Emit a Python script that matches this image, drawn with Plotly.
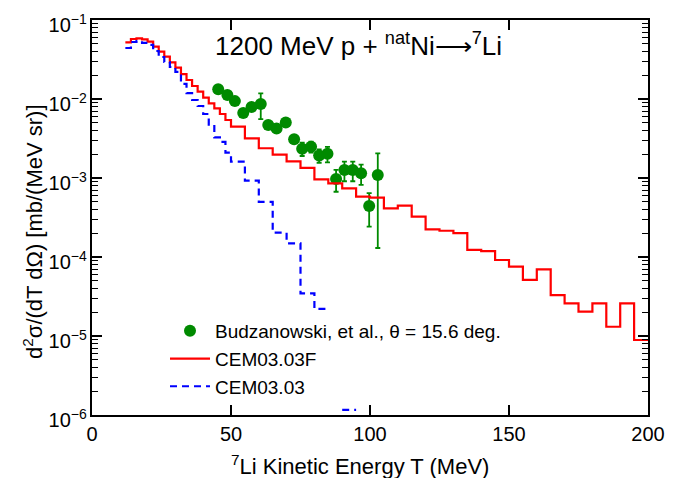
import plotly.graph_objects as go

# ---- data -------------------------------------------------------------
# CEM03.03F histogram: bin edges (MeV) and cross sections per bin [mb/(MeV sr)]
red_edges = [12, 14, 16, 18, 20, 22, 24, 26, 28, 30, 32, 34, 36, 38, 40, 42, 44, 46, 48, 50,
             55, 60, 65, 70, 75, 80, 85, 90, 95, 100, 105, 110, 115, 120, 125, 130, 135, 140,
             145, 150, 155, 160, 165, 170, 175, 180, 185, 190, 195, 200]
red_values = [0.0522, 0.0575, 0.0587, 0.0570, 0.0531, 0.0459, 0.0397, 0.0343, 0.0291, 0.0249,
              0.0206, 0.0174, 0.0146, 0.0124, 0.0104, 0.00882, 0.00762, 0.00646, 0.00542,
              0.00446, 0.00318, 0.00238, 0.00198, 0.00162, 0.00134, 0.000963, 0.000857,
              0.000741, 0.000580, 0.000563, 0.000413, 0.000446, 0.000324, 0.000224, 0.000215,
              0.000200, 0.000123, 0.000119, 9.16e-5, 7.54e-5, 5.12e-5, 6.99e-5, 3.30e-5,
              2.59e-5, 2.03e-5, 2.59e-5, 1.31e-5, 2.59e-5, 8.9e-6]

# CEM03.03 histogram (None = empty bin)
blue_edges = [12, 14, 16, 18, 20, 22, 24, 26, 28, 30, 32, 34, 36, 38, 40, 42, 44, 46, 48, 50,
              55, 60, 65, 70, 75, 80, 85, 90, 95]
blue_values = [0.0442, 0.0527, 0.0542, 0.0512, 0.0483, 0.0405, 0.0340, 0.0294, 0.0254, 0.0220,
               0.0155, 0.0119, 0.00971, 0.00815, 0.00646, 0.00475, 0.00326, 0.00286, 0.00210,
               0.00161, 0.000924, 0.000500, 0.000203, 0.000149, 3.47e-5, 2.20e-5, None, 1.16e-6]

# Budzanowski et al. measurement at 15.6 deg
exp_T = [45.4, 48.7, 51.4, 54.4, 57.4, 60.7, 63.4, 66.4, 69.7, 72.7,
         75.6, 78.8, 81.7, 84.7, 87.8, 90.8, 93.8, 96.8, 99.7, 102.8]
exp_sigma = [1.33e-2, 1.12e-2, 9.4e-3, 6.65e-3, 7.9e-3, 8.65e-3, 4.69e-3, 4.24e-3, 5.05e-3, 3.09e-3,
             2.35e-3, 2.49e-3, 1.93e-3, 2.03e-3, 9.7e-4, 1.26e-3, 1.26e-3, 1.15e-3, 4.43e-4, 1.09e-3]
exp_err = [1.1e-3, 9e-4, 8e-4, 5e-4, 6e-4, 3.1e-3, 3.5e-4, 3.2e-4, 4e-4, 2.5e-4,
           4.5e-4, 4e-4, 3.7e-4, 4.5e-4, 3.0e-4, 3.5e-4, 3.5e-4, 3.3e-4, 2.0e-4, 9.6e-4]

x_ticks = [0, 50, 100, 150, 200]


def step_xy(edges, values):
    """Turn per-bin values into an 'hv' polyline, breaking at empty bins."""
    xs, ys = [], []
    n = len(values)
    for i, v in enumerate(values):
        if v is None:
            continue
        xs.append(edges[i])
        ys.append(v)
        if i == n - 1 or values[i + 1] is None:
            xs.append(edges[i + 1])
            ys.append(v)
            xs.append(None)
            ys.append(None)
    return xs, ys


FONT = "Liberation Sans, Arial, Helvetica, sans-serif"

fig = go.Figure()

fig.add_trace(go.Scatter(
    x=exp_T, y=exp_sigma, mode="markers",
    name="Budzanowski, et al., \u03b8 = 15.6 deg.",
    marker=dict(color="#008a00", size=12, symbol="circle"),
    error_y=dict(type="data", array=exp_err, visible=True,
                 color="#008a00", thickness=1.8, width=2.5),
))

rx, ry = step_xy(red_edges, red_values)
fig.add_trace(go.Scatter(
    x=rx, y=ry, mode="lines", name="CEM03.03F",
    line=dict(color="#ff0000", width=2.2, shape="hv"),
    connectgaps=False,
))

bx, by = step_xy(blue_edges, blue_values)
fig.add_trace(go.Scatter(
    x=bx, y=by, mode="lines", name="CEM03.03",
    line=dict(color="#0000ff", width=2.2, shape="hv", dash="7px,5px"),
    connectgaps=False,
))

axis_common = dict(
    showline=True, linecolor="black", linewidth=2, mirror="ticks",
    ticks="inside", ticklen=10, tickwidth=1.5, tickcolor="black",
    showgrid=False, zeroline=False,
)

fig.update_xaxes(range=[0, 200], tickvals=x_ticks,
                 tickfont=dict(family=FONT, size=20, color="black"), **axis_common)
# power-format labels are drawn 1.25x the tick font size by plotly
fig.update_yaxes(type="log", range=[-6, -1], dtick=1, exponentformat="power",
                 tickfont=dict(family=FONT, size=16, color="black"),
                 ticklabelshift=5,
                 minor=dict(ticks="inside", ticklen=6, tickwidth=1, tickcolor="black",
                            showgrid=False),
                 **axis_common)


def px_x(p):
    return (p - 92) / 556.0


def px_y(p):
    return (415 - p) / 395.0


fig.update_layout(
    width=694, height=478,
    margin=dict(l=92, r=46, t=20, b=63),
    plot_bgcolor="white", paper_bgcolor="white",
    font=dict(family=FONT, color="black"),
    showlegend=True,
    legend=dict(
        x=px_x(165), y=px_y(312), xanchor="left", yanchor="top",
        bgcolor="rgba(0,0,0,0)", font=dict(family=FONT, size=19, color="black"),
        tracegroupgap=0, itemwidth=40,
    ),
    annotations=[
        dict(text="1200 MeV p + <sup>nat</sup>Ni\u27f6<sup>7</sup>Li",
             x=px_x(358), y=px_y(44), xref="paper", yref="paper",
             xanchor="center", yanchor="middle", showarrow=False,
             font=dict(family=FONT, size=26, color="black")),
        dict(text="d<sup>2</sup>\u03c3/(dT d\u03a9) [mb/(MeV sr)]",
             x=px_x(33), y=px_y(232), xref="paper", yref="paper",
             xanchor="center", yanchor="middle", showarrow=False, textangle=-90,
             font=dict(family=FONT, size=22, color="black")),
        dict(text="<sup>7</sup>Li Kinetic Energy T (MeV)",
             x=px_x(360), y=px_y(465), xref="paper", yref="paper",
             xanchor="center", yanchor="middle", showarrow=False,
             font=dict(family=FONT, size=22, color="black")),
    ],
)

fig.write_html("out.html")
